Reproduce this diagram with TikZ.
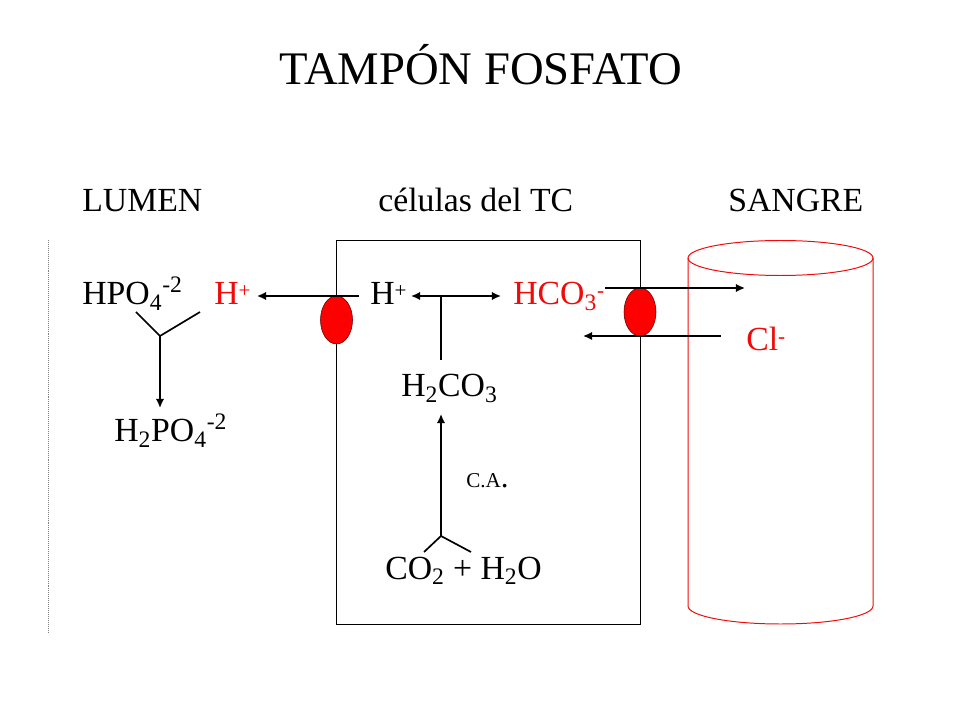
\documentclass[tikz,border=0pt]{standalone}
\usepackage{fontspec}
\setmainfont{Liberation Serif}
\usetikzlibrary{shapes.geometric, arrows.meta}
\definecolor{tampon}{RGB}{240,10,10}
\newcommand{\carga}[1]{\raisebox{.5ex}{\fontsize{15}{15}\selectfont #1}}
\tikzset{
    txt/.style={anchor=base west, inner sep=0pt, font=\fontsize{24}{27}\selectfont},
    bomba/.style={ellipse, draw=black!60!red, fill=red, minimum width=.8cm, minimum height=1.2cm, inner sep=0pt},
    flecha/.style={line width=1.2pt}
}
\begin{document}
\begin{tikzpicture}[>={Latex[length=6.5pt,width=6pt]}, x=.025cm, y=-.025cm]
\useasboundingbox (0,0) rectangle (960,720);
\node[txt, font=\fontsize{33.2}{38}\selectfont] (titulo) at (279,85){TAMPÓN FOSFATO};
\node[txt] (lumen) at (82,212){LUMEN};
\node[txt] (celulas) at (378,212){células del TC};
\node[txt] (sangre) at (728,212){SANGRE};
% paredes
\draw[densely dotted, gray] (48,240)--(48,632);
\draw[line width=.7pt] (336.5,240) rectangle (640,624);
\draw[tampon, line width=.7pt] (688,258) arc (180:-180:92.5 and 17.5);
\draw[tampon, line width=.7pt] (688,258)--(688,606) arc (180:0:92.5 and 18)--(873,258);
% bombas
\node[bomba] (bomba1) at (336.5,320){};
\node[bomba] (bomba2) at (640,312){};
% especies
\node[txt] (hpo) at (82,305){HPO\textsubscript{4}\textsuperscript{-2}};
\node[txt, text=tampon] (hluz) at (214,305){H\carga{+}};
\node[txt] (hcel) at (370,305){H\carga{+}};
\node[txt, text=tampon] (hco) at (513,305){HCO\textsubscript{3}\carga{-}};
\node[txt, text=tampon] (cl) at (746,351){Cl\carga{-}};
\node[txt] (hhco) at (401,397){H\textsubscript{2}CO\textsubscript{3}};
\node[txt] (hhpo) at (114,442){H\textsubscript{2}PO\textsubscript{4}\textsuperscript{-2}};
\node[txt, font=\fontsize{15}{18}\selectfont] (ca) at (466,488){C.A{\fontsize{22}{22}\selectfont .}};
\node[txt] (co) at (385,579){CO\textsubscript{2} + H\textsubscript{2}O};
% uniones
\coordinate (y1) at (160,336);
\coordinate (y1a) at (136,312);
\coordinate (y1b) at (200,312);
\coordinate (y1c) at (160,408);
\coordinate (a1) at (359,296);
\coordinate (a1b) at (257,296);
\coordinate (t1) at (441,296);
\coordinate (t1a) at (411,296);
\coordinate (t1b) at (501,296);
\coordinate (t1c) at (441,360);
\coordinate (b1) at (605,288);
\coordinate (b1b) at (745,288);
\coordinate (c1) at (721,336);
\coordinate (c1b) at (583,336);
\coordinate (y2) at (441,536);
\coordinate (y2a) at (424,552);
\coordinate (y2b) at (471,552);
\coordinate (y2c) at (441,414);
\draw[flecha] (y1a)--(y1)--(y1b);
\draw[flecha, ->] (y1)--(y1c);
\draw[flecha, ->] (a1)--(a1b);
\draw[flecha, <->] (t1a)--(t1b);
\draw[flecha] (t1)--(t1c);
\draw[flecha, ->] (b1)--(b1b);
\draw[flecha, ->] (c1)--(c1b);
\draw[flecha] (y2a)--(y2)--(y2b);
\draw[flecha, ->] (y2)--(y2c);
\end{tikzpicture}
\end{document}
